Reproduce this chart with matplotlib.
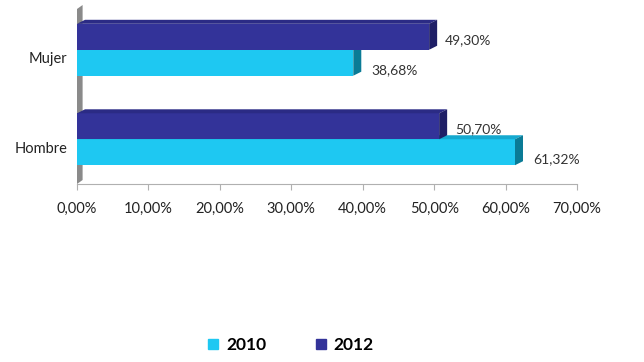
import matplotlib

matplotlib.use("Agg")
import matplotlib.pyplot as plt
import matplotlib.transforms as mtransforms
from matplotlib.patches import Polygon, Rectangle
from matplotlib.lines import Line2D

categories = ["Hombre", "Mujer"]
values_2010 = [61.32, 38.68]
values_2012 = [50.70, 49.30]
series_names = ["2010", "2012"]
xticks = [0, 10, 20, 30, 40, 50, 60, 70]

color_2010 = "#1ec8f2"
color_2012 = "#333399"
side_2010 = "#0a7b96"
side_2012 = "#1f1f66"
top_2010 = "#15a9cf"
top_2012 = "#2b2b85"

plt.rcParams["font.family"] = ["Lato", "DejaVu Sans"]

fig = plt.figure(figsize=(6.44, 3.62), dpi=100)
W, H = 644, 362
ax = fig.add_axes([77 / W, (H - 184) / H, (577 - 77) / W, (184 - 5) / H])
ax.set_xlim(0, 70)
ax.set_ylim(-0.5, 1.5)

# depth of the fake 3D effect, in data units (about 8 px by 4 px)
dx = 8 * 70 / 500
dy = 4 * 2 / 179
bar_h = 0.29


def draw_bar(y0, value, face, top, side):
    ax.add_patch(Rectangle((0, y0), value, bar_h, facecolor=face, edgecolor="none", zorder=3))
    ax.add_patch(Polygon([(0, y0 + bar_h), (value, y0 + bar_h), (value + dx, y0 + bar_h + dy),
                          (dx, y0 + bar_h + dy)], closed=True, facecolor=top, edgecolor="none", zorder=3))
    ax.add_patch(Polygon([(value, y0), (value + dx, y0 + dy), (value + dx, y0 + bar_h + dy),
                          (value, y0 + bar_h)], closed=True, facecolor=side, edgecolor="none", zorder=3))


# back wall
ax.add_patch(Polygon([(0, -0.5), (dx * 0.7, -0.5 + dy), (dx * 0.7, 1.5), (0, 1.5 - dy)], closed=True,
                     facecolor="#8a8a8a", edgecolor="none", zorder=1, clip_on=False))

label_offsets = {"2010": (10, -7), "2012": (8, -3)}
for i, cat in enumerate(categories):
    draw_bar(i - bar_h, values_2010[i], color_2010, top_2010, side_2010)
    draw_bar(i, values_2012[i], color_2012, top_2012, side_2012)
    for name, val, y0 in (("2010", values_2010[i], i - bar_h), ("2012", values_2012[i], i)):
        ox, oy = label_offsets[name]
        ax.annotate(f"{val:.2f}%".replace(".", ","), (val + dx, y0 + bar_h / 2),
                    xytext=(ox * 0.72, oy * 0.72), textcoords="offset points",
                    ha="left", va="center", fontsize=10, color="#333333", zorder=5)

for spine in ("top", "right", "left"):
    ax.spines[spine].set_visible(False)
ax.spines["bottom"].set_color("#b0b0b0")
ax.spines["bottom"].set_linewidth(0.8)

ax.set_xticks(xticks)
ax.set_xticklabels([f"{t:.2f}%".replace(".", ",") for t in xticks], fontsize=10.5, color="#222222")
ax.tick_params(axis="x", direction="out", length=4, color="#b0b0b0", pad=9)

ax.set_yticks(range(len(categories)))
ax.set_yticklabels(categories, fontsize=10.5, color="#222222")
ax.tick_params(axis="y", length=0, pad=7)
shift = mtransforms.ScaledTranslation(0, -8 / 100, fig.dpi_scale_trans)
for lbl in ax.get_yticklabels():
    lbl.set_transform(lbl.get_transform() + shift)

handles = [Line2D([], [], marker="s", linestyle="none", markersize=7, color=c)
           for c in (color_2010, color_2012)]
fig.legend(handles, series_names, loc="center", bbox_to_anchor=(290 / W, 1 - 345 / H), ncol=2,
           frameon=False, handlelength=0.8, handletextpad=0.35, columnspacing=2.75,
           prop={"weight": "bold", "size": 12.5})

fig.savefig("out.png", dpi=100)
plt.close(fig)
